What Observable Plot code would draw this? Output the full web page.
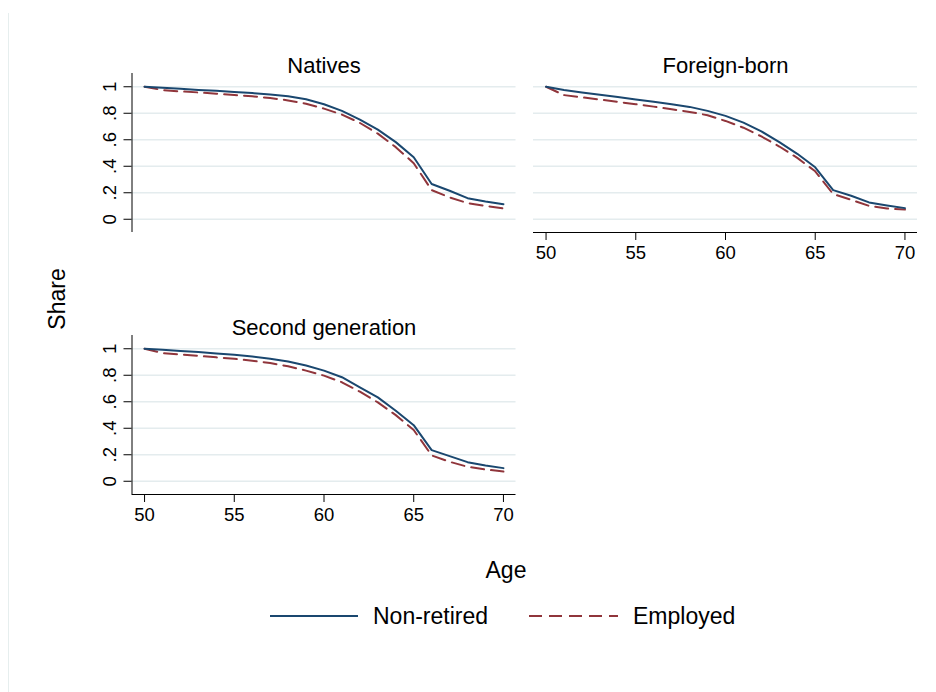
<!DOCTYPE html>
<html>
<head>
<meta charset="utf-8">
<script src="https://cdn.jsdelivr.net/npm/d3@7"></script>
<script src="https://cdn.jsdelivr.net/npm/@observablehq/plot@0.6"></script>
<style>
  html, body { margin: 0; padding: 0; background: #fff; }
  #chart { position: relative; width: 936px; height: 692px; background: #fff; overflow: hidden;
           font-family: "Liberation Sans", Arial, sans-serif; }
  #chart svg { position: absolute; left: 0; top: 0; }
  #edge { position: absolute; left: 8px; top: 13px; width: 1px; height: 679px; background: #e6eeee; }
</style>
</head>
<body>
<div id="chart"><div id="edge"></div></div>
<script>
// ---------- data ----------
const ages = [50, 51, 52, 53, 54, 55, 56, 57, 58, 59, 60, 61, 62, 63, 64, 65, 66, 67, 68, 69, 70];

const nativesNonRetired = [1.000, 0.992, 0.984, 0.976, 0.969, 0.961, 0.952, 0.942, 0.928, 0.906, 0.868, 0.818, 0.752, 0.676, 0.582, 0.468, 0.266, 0.215, 0.159, 0.134, 0.114];
const nativesEmployed   = [1.000, 0.975, 0.965, 0.957, 0.948, 0.938, 0.928, 0.915, 0.897, 0.872, 0.835, 0.790, 0.727, 0.646, 0.544, 0.423, 0.220, 0.165, 0.122, 0.101, 0.081];

const foreignNonRetired = [1.000, 0.975, 0.957, 0.940, 0.922, 0.904, 0.887, 0.868, 0.848, 0.818, 0.780, 0.729, 0.663, 0.582, 0.494, 0.392, 0.220, 0.177, 0.127, 0.104, 0.084];
const foreignEmployed   = [1.000, 0.937, 0.920, 0.903, 0.886, 0.868, 0.850, 0.830, 0.810, 0.785, 0.742, 0.691, 0.625, 0.549, 0.463, 0.362, 0.190, 0.147, 0.101, 0.081, 0.073];

const secondNonRetired  = [1.000, 0.992, 0.983, 0.975, 0.965, 0.954, 0.942, 0.925, 0.904, 0.873, 0.835, 0.785, 0.709, 0.633, 0.532, 0.423, 0.235, 0.190, 0.144, 0.119, 0.099];
const secondEmployed    = [1.000, 0.967, 0.957, 0.946, 0.935, 0.924, 0.910, 0.892, 0.868, 0.835, 0.797, 0.747, 0.676, 0.595, 0.499, 0.387, 0.195, 0.147, 0.109, 0.089, 0.073];

const panelTitles = ["Natives", "Foreign-born", "Second generation"];
const seriesNames = ["Non-retired", "Employed"];
const yTicks = [0, 0.2, 0.4, 0.6, 0.8, 1];
const yTickLabels = ["0", ".2", ".4", ".6", ".8", "1"];
const xTicks = [50, 55, 60, 65, 70];
const xTitle = "Age";
const yTitle = "Share";

// ---------- styling ----------
const W = 936, H = 692;
const FRAME_W = 384, FRAME_H = 159;
const X_DOMAIN = [49.3, 70.7];
const Y_DOMAIN = [-0.1, 1.1];
const NAVY = "#1a476f", MAROON = "#90353b", GRID = "#e4ecee";
const FONT = "'Liberation Sans', Arial, sans-serif";

function panel({title, nonRetired, employed, left, top, showX, showY}) {
  const rowsA = ages.map((a, i) => ({age: a, share: nonRetired[i], series: seriesNames[0]}));
  const rowsB = ages.map((a, i) => ({age: a, share: employed[i], series: seriesNames[1]}));
  const marks = [
    Plot.gridY(yTicks, {stroke: GRID, strokeOpacity: 1, strokeWidth: 1.5}),
    Plot.line(rowsB, {x: "age", y: "share", stroke: MAROON, strokeWidth: 2, strokeDasharray: "13,7"}),
    Plot.line(rowsA, {x: "age", y: "share", stroke: NAVY, strokeWidth: 2}),
    Plot.text([title], {frameAnchor: "top", dy: -16, text: d => d, fontSize: 22, fill: "#000"})
  ];
  if (showY) {
    marks.push(Plot.ruleX([X_DOMAIN[0]], {stroke: "#000", strokeWidth: 1}));
    marks.push(Plot.axisY(yTicks, {
      tickSize: 8, tickPadding: 8, tickRotate: -90, fontSize: 18.5, fill: "#000", stroke: "#000",
      tickFormat: d => yTickLabels[yTicks.indexOf(d)], label: null
    }));
  }
  if (showX) {
    marks.push(Plot.ruleY([Y_DOMAIN[0]], {stroke: "#000", strokeWidth: 1}));
    marks.push(Plot.axisX(xTicks, {
      tickSize: 8, tickPadding: 5, fontSize: 18.5, fill: "#000", stroke: "#000",
      tickFormat: d => String(d), label: null
    }));
  }
  const svg = Plot.plot({
    width: W, height: H,
    marginLeft: left, marginRight: W - left - FRAME_W,
    marginTop: top, marginBottom: H - top - FRAME_H,
    x: {domain: X_DOMAIN, axis: null},
    y: {domain: Y_DOMAIN, axis: null},
    style: {background: "transparent", fontFamily: FONT, color: "#000", overflow: "visible"},
    marks
  });
  svg.style.position = "absolute";
  svg.style.left = "0px";
  svg.style.top = "0px";
  return svg;
}

const chart = document.getElementById("chart");
chart.appendChild(panel({title: panelTitles[0], nonRetired: nativesNonRetired, employed: nativesEmployed, left: 131.5, top: 73, showX: false, showY: true}));
chart.appendChild(panel({title: panelTitles[1], nonRetired: foreignNonRetired, employed: foreignEmployed, left: 533, top: 73, showX: true, showY: false}));
chart.appendChild(panel({title: panelTitles[2], nonRetired: secondNonRetired, employed: secondEmployed, left: 131.5, top: 335, showX: true, showY: true}));

// ---------- axis titles & legend ----------
const ns = "http://www.w3.org/2000/svg";
const ov = document.createElementNS(ns, "svg");
ov.setAttribute("width", W); ov.setAttribute("height", H);
ov.setAttribute("viewBox", `0 0 ${W} ${H}`);
ov.style.position = "absolute"; ov.style.left = "0px"; ov.style.top = "0px";
ov.setAttribute("font-family", FONT);
function el(tag, attrs, txt) {
  const e = document.createElementNS(ns, tag);
  for (const k in attrs) e.setAttribute(k, attrs[k]);
  if (txt != null) e.textContent = txt;
  ov.appendChild(e);
  return e;
}
el("text", {transform: "translate(65,299) rotate(-90)", "text-anchor": "middle", "font-size": 23, fill: "#000"}, yTitle);
el("text", {x: 506, y: 578, "text-anchor": "middle", "font-size": 23, fill: "#000"}, xTitle);
el("line", {x1: 270, x2: 358, y1: 616, y2: 616, stroke: NAVY, "stroke-width": 2});
el("text", {x: 373, y: 624, "font-size": 23, fill: "#000"}, seriesNames[0]);
el("line", {x1: 529, x2: 618, y1: 616, y2: 616, stroke: MAROON, "stroke-width": 2, "stroke-dasharray": "13,7"});
el("text", {x: 633, y: 624, "font-size": 23, fill: "#000"}, seriesNames[1]);
chart.appendChild(ov);
</script>
</body>
</html>
